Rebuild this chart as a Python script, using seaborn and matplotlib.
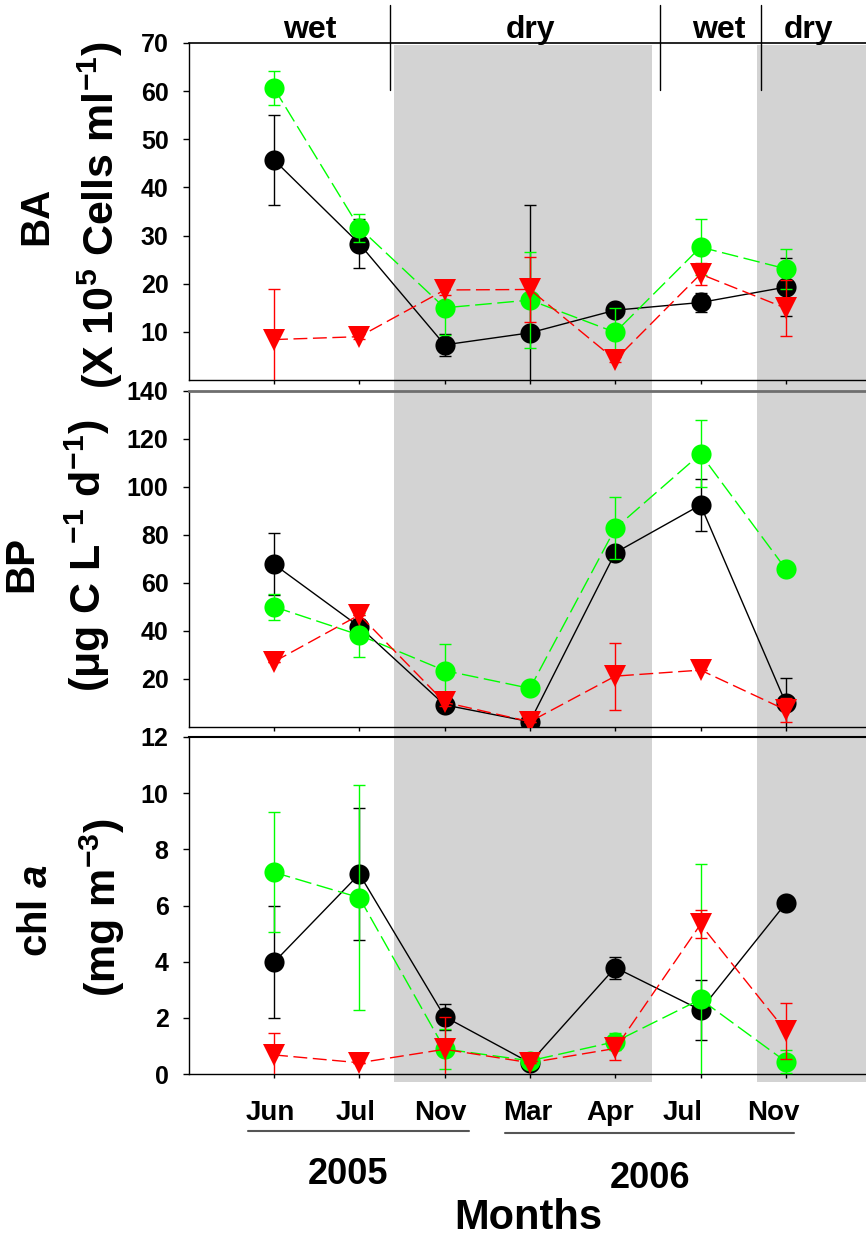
import numpy as np
import matplotlib
matplotlib.use("Agg")
import matplotlib.pyplot as plt
import matplotlib.transforms as mtransforms
from matplotlib.patches import Rectangle
from matplotlib.lines import Line2D
import seaborn as sns

# ---------------- data ----------------
months = ["Jun", "Jul", "Nov", "Mar", "Apr", "Jul", "Nov"]
years = ["2005", "2006"]
seasons = ["wet", "dry", "wet", "dry"]

# BA (x 10^5 cells/ml)
ba_black = [45.7, 28.3, 7.3, 9.8, 14.5, 16.1, 19.3]
ba_black_err = [9.3, 5.1, 2.3, 26.6, 1.0, 2.0, 6.0]
ba_green = [60.6, 31.6, 15.0, 16.6, 9.9, 27.6, 23.1]
ba_green_err = [3.5, 2.9, 5.6, 10.0, 5.0, 5.8, 4.2]
ba_red = [8.4, 9.0, 18.7, 18.8, 4.2, 22.0, 14.9]
ba_red_err = [10.4, 0.5, 1.0, 6.7, 0.5, 2.2, 5.8]

# BP (ug C/L/d)
bp_black = [67.8, 41.8, 9.2, 2.2, 72.6, 92.5, 9.9]
bp_black_err = [13.0, 3.0, 2.0, 1.0, 2.0, 11.0, 10.4]
bp_green = [50.1, 38.3, 23.5, 16.1, 82.8, 113.8, 65.8]
bp_green_err = [5.5, 9.0, 11.0, 0.0, 13.0, 14.0, 0.0]
bp_red = [27.2, 46.7, 10.3, 2.2, 21.2, 23.7, 7.1]
bp_red_err = [0.0, 0.0, 1.5, 0.0, 14.0, 0.0, 5.0]

# chl a (mg/m3)
chl_black = [3.98, 7.12, 2.04, 0.40, 3.79, 2.28, 6.08]
chl_black_err = [2.0, 2.35, 0.47, 0.1, 0.39, 1.06, 0.0]
chl_green = [7.18, 6.28, 0.89, 0.47, 1.15, 2.66, 0.44]
chl_green_err = [2.14, 4.0, 0.7, 0.0, 0.3, 4.8, 0.4]
chl_red = [0.68, 0.40, 0.88, 0.40, 0.91, 5.33, 1.53]
chl_red_err = [0.78, 0.0, 1.14, 0.0, 0.4, 0.5, 1.0]

# ---------------- style ----------------
sns.set_style("ticks")
plt.rcParams['font.family'] = ['Liberation Sans', 'DejaVu Sans']
plt.rcParams['font.weight'] = 'bold'
plt.rcParams['text.color'] = 'black'
plt.rcParams['axes.labelcolor'] = 'black'
plt.rcParams['xtick.color'] = 'black'
plt.rcParams['ytick.color'] = 'black'
plt.rcParams['mathtext.fontset'] = 'custom'
plt.rcParams['mathtext.rm'] = 'Liberation Sans:bold'
plt.rcParams['mathtext.it'] = 'Liberation Sans:bold:italic'
plt.rcParams['mathtext.bf'] = 'Liberation Sans:bold'
plt.rcParams['mathtext.default'] = 'rm'

W, H = 866, 1236
fig = plt.figure(figsize=(W / 100, H / 100), dpi=100)


def fx(px):
    return px / W


def fy(py):
    return 1 - py / H


x0 = 188.75
unit = 85.3
axes_px = [(43, 380), (391, 727), (737, 1074)]
axs = []
for top, bot in axes_px:
    ax = fig.add_axes([fx(x0), fy(bot), 8 * unit / W, (bot - top) / H])
    ax.set_facecolor('none')
    axs.append(ax)

pos = np.arange(len(months))
series_style = [
    dict(color="black", marker="o", ms=14.5, ls="-"),
    dict(color="#00ff00", marker="o", ms=14.5, ls=(0, (12, 4))),
    dict(color="#ff0000", marker="v", ms=16, ls=(0, (10, 4))),
]
panels = [
    ([ba_black, ba_green, ba_red], [ba_black_err, ba_green_err, ba_red_err], (0, 70), np.arange(10, 71, 10)),
    ([bp_black, bp_green, bp_red], [bp_black_err, bp_green_err, bp_red_err], (0, 140), np.arange(20, 141, 20)),
    ([chl_black, chl_green, chl_red], [chl_black_err, chl_green_err, chl_red_err], (0, 12), np.arange(0, 13, 2)),
]

for k, (ax, (vals, errs, ylim, yticks)) in enumerate(zip(axs, panels)):
    for i, (st, v, e) in enumerate(zip(series_style, vals, errs)):
        ax.errorbar(pos, v, yerr=e, fmt='none', ecolor=st["color"], elinewidth=1,
                    capsize=4.5, capthick=1, zorder=3 + i)
        sns.lineplot(x=pos, y=v, ax=ax, color=st["color"], marker=st["marker"],
                     markersize=st["ms"], markeredgewidth=0, linewidth=1,
                     linestyle=st["ls"], sort=False, zorder=3.5 + i)
    ax.set_xlim(-1, 7)
    ax.set_ylim(*ylim)
    ax.set_yticks(yticks)
    ax.set_xticks(pos)
    ax.set_xlabel("")
    ax.set_ylabel("")
    ax.spines['right'].set_visible(False)
    for s in ['left', 'bottom']:
        ax.spines[s].set_color('black')
        ax.spines[s].set_linewidth(1)
    ax.tick_params(axis='y', direction='out', length=4.5, width=1, pad=10,
                   labelsize=18, colors='black', labelcolor='black')
    ax.tick_params(axis='x', direction='out', length=3, width=1, colors='black')
    if k < 2:
        ax.tick_params(axis='x', labelbottom=False)

axs[0].spines['top'].set_color('black')
axs[0].spines['top'].set_linewidth(1.2)
axs[1].spines['top'].set_color('#6e6e6e')
axs[1].spines['top'].set_linewidth(2)
axs[2].spines['top'].set_color('black')
axs[2].spines['top'].set_linewidth(1.5)

# month tick labels
axs[2].set_xticklabels(months)
axs[2].tick_params(axis='x', labelsize=20, pad=16, labelcolor='black')
label_shift_px = [-4, -4, -4, -2, -5, -18, -13]
for lab, dx in zip(axs[2].get_xticklabels(), label_shift_px):
    lab.set_fontweight('bold')
    lab.set_transform(lab.get_transform() + mtransforms.ScaledTranslation(dx / 100, 0, fig.dpi_scale_trans))

# shaded dry seasons spanning all panels
trans = mtransforms.blended_transform_factory(axs[0].transData, fig.transFigure)
dry_spans = [(1.41, 4.43), (5.667, 8.0)]
for xa, xb in dry_spans:
    fig.add_artist(Rectangle((xa, fy(1082)), xb - xa, fy(45) - fy(1082), transform=trans,
                             facecolor='#d3d3d3', edgecolor='none', zorder=-1))

# season separators and labels
season_breaks = [1.36, 4.53, 5.71]
for xb in season_breaks:
    fig.add_artist(Line2D([xb, xb], [fy(5), fy(90)], transform=trans, color='black', lw=1))
season_x = [0.415, 3.006, 5.21, 6.27]
for s, xs in zip(seasons, season_x):
    fig.text(xs, fy(38), s, transform=trans, ha='center', va='baseline',
             fontsize=23, fontweight='bold', color='black')

# year underlines and labels
year_lines = [(-0.30, 2.285, 1131), (2.708, 6.10, 1133)]
for xa, xb, yp in year_lines:
    fig.add_artist(Line2D([xa, xb], [fy(yp), fy(yp)], transform=trans, color='#555555', lw=1.5))
year_x = [0.872, 4.41]
year_y = [1175, 1178]
for yr, xs, yp in zip(years, year_x, year_y):
    fig.text(xs, fy(yp), yr, transform=trans, ha='center', va='center',
             fontsize=26, fontweight='bold', color='black')
fig.text(2.98, fy(1218), "Months", transform=trans, ha='center', va='center',
         fontsize=30, fontweight='bold', color='black')

# y-axis labels
ylabels = [
    ("BA", 36, 216, 29),
    ("(X 10$^5$ Cells ml$^{-1}$)", 100, 215, 31),
    ("BP", 21, 564, 29),
    ("(\u03bcg C L$^{-1}$ d$^{-1}$)", 87, 556, 31),
    ("chl $\\mathit{a}$", 36, 911, 29),
    ("(mg m$^{-3}$)", 102, 907, 31),
]
for txt, xp, yp, fs in ylabels:
    fig.text(fx(xp), fy(yp), txt, rotation=90, ha='center', va='center',
             fontsize=fs, fontweight='bold', color='black')

fig.savefig("out.png", dpi=100)
